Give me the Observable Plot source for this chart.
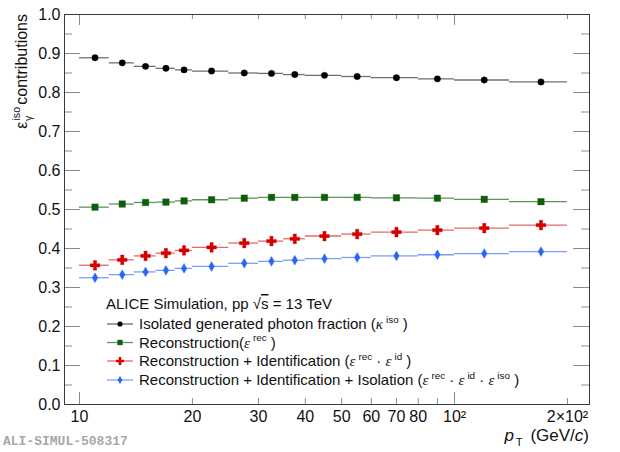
<!DOCTYPE html>
<html><head><meta charset="utf-8">
<script src="https://cdn.jsdelivr.net/npm/d3@7"></script>
<script src="https://cdn.jsdelivr.net/npm/@observablehq/plot@0.6"></script>
<style>
html,body{margin:0;padding:0;background:#fff;}
#chart{width:620px;height:452px;}
</style></head><body><div id="chart"></div>
<script>
// ---- data ----
const binEdges = [10,12,14,16,18,20,25,30,35,40,50,60,80,100,140,200];
const ptCenters = [11,13,15,17,19,22.5,27.5,32.5,37.5,45,55,70,90,120,170];
const kappaIso    = [0.889,0.876,0.867,0.862,0.858,0.855,0.850,0.849,0.846,0.844,0.841,0.838,0.835,0.832,0.827];
const effRec      = [0.506,0.514,0.518,0.519,0.522,0.525,0.529,0.531,0.531,0.531,0.531,0.530,0.529,0.526,0.520];
const effRecId    = [0.357,0.371,0.381,0.388,0.395,0.403,0.414,0.419,0.425,0.432,0.437,0.442,0.447,0.452,0.460];
const effRecIdIso = [0.325,0.333,0.340,0.344,0.349,0.354,0.362,0.367,0.370,0.374,0.377,0.381,0.384,0.387,0.392];
const yTicks = [0,0.1,0.2,0.3,0.4,0.5,0.6,0.7,0.8,0.9,1.0];
const yMinorTicks = [0.05,0.15,0.25,0.35,0.45,0.55,0.65,0.75,0.85,0.95];
const xMajorTicks = [10,100];
const xMinorTicks = [20,30,40,50,60,70,80,90,200];
const xTickValues = [10,20,30,40,50,60,70,80,100,200];
const xTickLabels = ["10","20","30","40","50","60","70","80","10²","2×10²"];

const SANS = "'Liberation Sans', Arial, Helvetica, sans-serif";
const SERIF = "'Liberation Serif', 'Times New Roman', serif";

const series = [
  {key:"kappa", values:kappaIso,    symbol:"circle",  fill:"#000000", line:"#6f6f6f", r:3.2,  lr:2.6},
  {key:"rec",   values:effRec,      symbol:"square",  fill:"#0d5f0d", line:"#5f935f", r:3.7,  lr:3.0},
  {key:"recid", values:effRecId,    symbol:"cross",   fill:"#d40000", line:"#e26a6a", r:4.1,  lr:3.3},
  {key:"all",   values:effRecIdIso, symbol:"diamond", fill:"#2a66f6", line:"#7d9ef7", r:3.0,  lr:2.5}
];
const rows = series.flatMap(s => s.values.map((v,i) => ({
  s: s.key, v, c: ptCenters[i], lo: binEdges[i], hi: binEdges[i+1], fill: s.fill, line: s.line
})));

const W = 620, H = 452, ML = 64, MR = 31, MT = 14, MB = 48;
const PW = W - ML - MR, PH = H - MT - MB;
const tickC = "#8a8a8a";

const marks = [];
for (const s of series) {
  marks.push(Plot.ruleY(rows.filter(d => d.s === s.key), {y:"v", x1:"lo", x2:"hi", stroke: s.line, strokeWidth:1.3}));
}
for (const s of series) {
  marks.push(Plot.dot(rows.filter(d => d.s === s.key), {x:"c", y:"v", symbol: s.symbol, r: s.r, fill: s.fill, stroke: s.fill, strokeOpacity:0.35, strokeWidth:1}));
}
marks.push(
  Plot.ruleY(yTicks, {y: d => d, insetRight: PW - 16, stroke: tickC}),
  Plot.ruleY(yMinorTicks, {y: d => d, insetRight: PW - 8, stroke: tickC}),
  Plot.ruleY(yTicks, {y: d => d, insetLeft: PW - 16, stroke: tickC}),
  Plot.ruleY(yMinorTicks, {y: d => d, insetLeft: PW - 8, stroke: tickC}),
  Plot.ruleX(xMajorTicks, {x: d => d, insetTop: PH - 12, stroke: tickC}),
  Plot.ruleX(xMinorTicks, {x: d => d, insetTop: PH - 6, stroke: tickC}),
  Plot.ruleX(xMajorTicks, {x: d => d, insetBottom: PH - 11, stroke: tickC}),
  Plot.ruleX(xMinorTicks, {x: d => d, insetBottom: PH - 5, stroke: tickC}),
  Plot.frame({stroke:"#3a3a3a", strokeWidth:1}),
  Plot.text(yTicks, {y: d => d, frameAnchor:"left", textAnchor:"end", dx:-4, text: d => d.toFixed(1), fontSize:16, fill:"#111"}),
  Plot.text(xTickValues, {x: d => d, frameAnchor:"bottom", lineAnchor:"middle", dy:12, text: (d,i) => xTickLabels[i], fontSize:16, fill:"#111"})
);

const plot = Plot.plot({
  width: W, height: H,
  marginLeft: ML, marginRight: MR, marginTop: MT, marginBottom: MB,
  style: {fontFamily: SANS, fontSize: "16px", background: "#fff", color: "#111"},
  x: {type:"log", domain:[9.12, 229], axis:null},
  y: {domain:[0,1], axis:null},
  marks
});
document.getElementById("chart").appendChild(plot);

// ---- rich text helpers (titles, legend) ----
const svg = d3.select(plot);
function rich(g, x, y, parts, size, anchor) {
  const t = g.append("text").attr("x", x).attr("y", y)
    .attr("font-family", SANS).attr("font-size", size).attr("fill", "#111")
    .attr("text-anchor", anchor || "start");
  let shift = 0;
  for (const p of parts) {
    const ts = t.append("tspan").text(p.t);
    const target = p.sup ? -size*0.42 : p.sub ? size*0.32 : 0;
    ts.attr("dy", target - shift); shift = target;
    if (p.sup || p.sub) ts.attr("font-size", size*0.66);
    if (p.it) ts.attr("font-style", "italic");
    if (p.serif) ts.attr("font-family", SERIF);
    if (p.dx) ts.attr("dx", p.dx);
    if (p.over) ts.attr("text-decoration", "overline");
  }
  return t;
}

// y-axis title
const yt = svg.append("g").attr("transform", `translate(27,${MT}) rotate(-90)`);
rich(yt, 0, 0, [
  {t:"ε"}, {t:"iso", sup:true, dx:1}, {t:"γ", sub:true, dx:-14}, {t:"contributions", dx:11}
], 16, "end");

// x-axis title
rich(svg, W - MR, 441, [
  {t:"p", it:true}, {t:"T", sub:true, dx:2}, {t:" (GeV/", dx:3}, {t:"c", it:true}, {t:")"}
], 17, "end");

// legend
const lg = svg.append("g");
rich(lg, 106, 309, [{t:"ALICE Simulation, pp "}, {t:"√"}, {t:"s", over:true}, {t:" = 13 TeV"}], 15);
const eps = (sup) => [{t:"ε", serif:true, it:true}, {t: sup, sup:true, dx:3}];
const legendTexts = [
  [{t:"Isolated generated photon fraction ("}, {t:"κ", serif:true, it:true}, {t:"iso", sup:true, dx:3}, {t:" )"}],
  [{t:"Reconstruction("}, ...eps("rec"), {t:" )"}],
  [{t:"Reconstruction + Identification ("}, ...eps("rec"), {t:" · "}, ...eps("id"), {t:" )"}],
  [{t:"Reconstruction + Identification + Isolation ("}, ...eps("rec"), {t:" · "}, ...eps("id"), {t:" · "}, ...eps("iso"), {t:" )"}]
];
const legendY = [324, 342.5, 361, 380];
const symMap = {circle: d3.symbolCircle, square: d3.symbolSquare, cross: d3.symbolCross, diamond: d3.symbolDiamond};
series.forEach((s, i) => {
  const y = legendY[i];
  lg.append("line").attr("x1", 107).attr("x2", 133).attr("y1", y).attr("y2", y)
    .attr("stroke", s.line).attr("stroke-width", 1.3);
  lg.append("path").attr("d", d3.symbol(symMap[s.symbol], Math.PI * s.lr * s.lr)())
    .attr("transform", `translate(120,${y})`).attr("fill", s.fill);
  rich(lg, 139, y + 5, legendTexts[i], 15);
});

// watermark
svg.append("text").attr("x", 3).attr("y", 445).attr("text-anchor", "start")
  .attr("font-family", "'Liberation Mono', 'DejaVu Sans Mono', monospace")
  .attr("font-size", 13).attr("font-weight", "bold").attr("fill", "#a8a8a8")
  .text("ALI-SIMUL-508317");
</script>
</body></html>
